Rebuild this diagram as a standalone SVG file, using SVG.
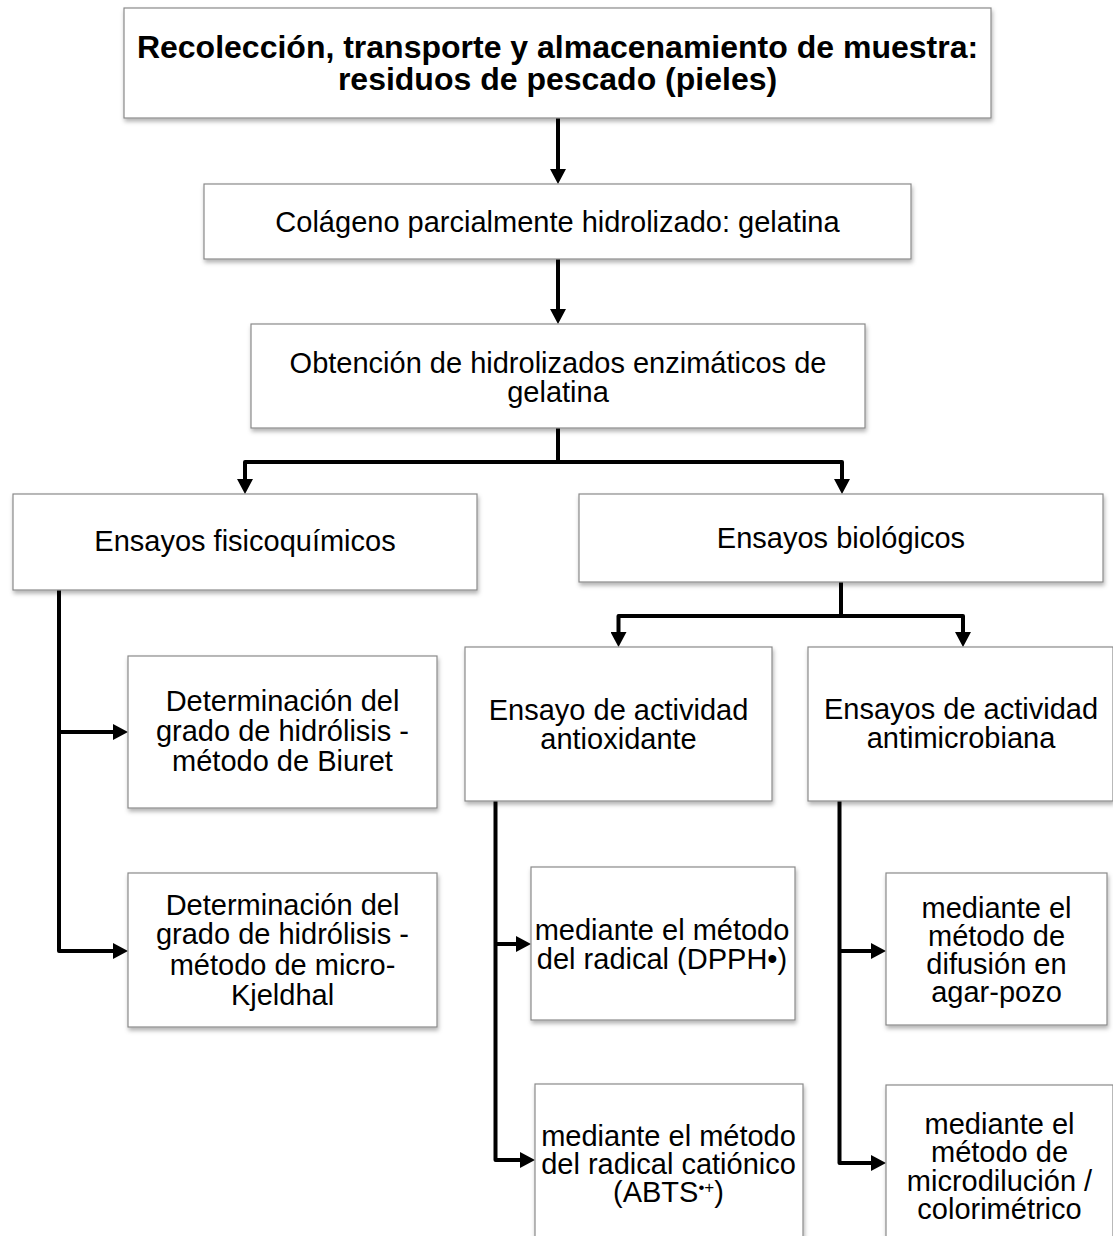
<svg xmlns="http://www.w3.org/2000/svg" width="1113" height="1236" viewBox="0 0 1113 1236">
  <style>
    .box { fill: #ffffff; stroke: #8a8a8a; stroke-width: 1.2; filter: url(#shadow); }
    .t { font-family: "Liberation Sans", Arial, Helvetica, sans-serif; font-size: 29px; fill: #000; text-anchor: middle; }
    .b { font-family: "Liberation Sans", Arial, Helvetica, sans-serif; font-size: 32px; font-weight: bold; fill: #000; text-anchor: middle; }
    .sup { font-size: 17px; }
    .wire { fill: none; stroke: #000; stroke-width: 4; stroke-linejoin: round; marker-end: url(#head); }
    .wire-plain { fill: none; stroke: #000; stroke-width: 4; stroke-linejoin: round; }
  </style>
  <defs>
    <filter id="shadow" x="-5%" y="-5%" width="112%" height="120%">
      <feDropShadow dx="1" dy="3" stdDeviation="2" flood-color="#000" flood-opacity="0.3"/>
    </filter>
    <marker id="head" markerUnits="userSpaceOnUse" markerWidth="16" markerHeight="16" refX="1" refY="8" orient="auto">
      <path d="M0,0 L15,8 L0,16 Z" fill="#000"/>
    </marker>
  </defs>

  <rect width="1113" height="1236" fill="#ffffff"/>

  <!-- connectors -->
  <g id="connectors">
    <path class="wire" d="M558,118 V170"/>
    <path class="wire" d="M558,259 V310"/>
    <path class="wire" d="M558,428 V462 H245 V480"/>
    <path class="wire" d="M558,462 H842 V480"/>
    <path class="wire" d="M841,582 V616 H618.5 V633"/>
    <path class="wire" d="M841,616 H963 V633"/>
    <path class="wire" d="M59,590 V951 H114"/>
    <path class="wire" d="M59,732 H114"/>
    <path class="wire" d="M495.5,801 V1160 H521"/>
    <path class="wire" d="M495.5,944 H517"/>
    <path class="wire" d="M839.5,801 V1163 H872"/>
    <path class="wire" d="M839.5,951 H872"/>
  </g>

  <g id="muestra">
    <rect class="box" x="124" y="8" width="867" height="110"/>
    <text class="b" x="557.5" y="58">Recolección, transporte y almacenamiento de muestra:</text>
    <text class="b" x="557.5" y="90">residuos de pescado (pieles)</text>
  </g>

  <g id="gelatina">
    <rect class="box" x="204" y="184" width="707" height="75"/>
    <text class="t" x="557.5" y="232">Colágeno parcialmente hidrolizado: gelatina</text>
  </g>

  <g id="hidrolizados">
    <rect class="box" x="251" y="324" width="614" height="104"/>
    <text class="t" x="558" y="373">Obtención de hidrolizados enzimáticos de</text>
    <text class="t" x="558" y="402">gelatina</text>
  </g>

  <g id="fisicoquimicos">
    <rect class="box" x="13" y="494" width="464" height="96"/>
    <text class="t" x="245" y="551">Ensayos fisicoquímicos</text>
  </g>

  <g id="biologicos">
    <rect class="box" x="579" y="494" width="524" height="88"/>
    <text class="t" x="841" y="548">Ensayos biológicos</text>
  </g>

  <g id="biuret">
    <rect class="box" x="128" y="656" width="309" height="152"/>
    <text class="t" x="282.5" y="711">Determinación del</text>
    <text class="t" x="282.5" y="740.5">grado de hidrólisis -</text>
    <text class="t" x="282.5" y="770.5">método de Biuret</text>
  </g>

  <g id="kjeldhal">
    <rect class="box" x="128" y="873" width="309" height="154"/>
    <text class="t" x="282.5" y="914.5">Determinación del</text>
    <text class="t" x="282.5" y="944">grado de hidrólisis -</text>
    <text class="t" x="282.5" y="974.5">método de micro-</text>
    <text class="t" x="282.5" y="1005">Kjeldhal</text>
  </g>

  <g id="antioxidante">
    <rect class="box" x="465" y="647" width="307" height="154"/>
    <text class="t" x="618.5" y="719.5">Ensayo de actividad</text>
    <text class="t" x="618.5" y="748.5">antioxidante</text>
  </g>

  <g id="antimicrobiana">
    <rect class="box" x="808" y="647" width="305" height="154"/>
    <text class="t" x="961" y="719">Ensayos de actividad</text>
    <text class="t" x="961" y="748">antimicrobiana</text>
  </g>

  <g id="dpph">
    <rect class="box" x="531" y="867" width="264" height="153"/>
    <text class="t" x="662" y="939.5">mediante el método</text>
    <text class="t" x="662" y="968.5">del radical (DPPH•)</text>
  </g>

  <g id="abts">
    <rect class="box" x="535" y="1084" width="268" height="160"/>
    <text class="t" x="668.5" y="1146">mediante el método</text>
    <text class="t" x="668.5" y="1174">del radical catiónico</text>
    <text class="t" x="668.5" y="1202">(ABTS<tspan class="sup" dy="-9">•+</tspan><tspan dy="9">)</tspan></text>
  </g>

  <g id="agar-pozo">
    <rect class="box" x="886" y="873" width="221" height="152"/>
    <text class="t" x="996.5" y="918">mediante el</text>
    <text class="t" x="996.5" y="946">método de</text>
    <text class="t" x="996.5" y="974">difusión en</text>
    <text class="t" x="996.5" y="1002">agar-pozo</text>
  </g>

  <g id="microdilucion">
    <rect class="box" x="886" y="1085" width="227" height="160"/>
    <text class="t" x="999.5" y="1133.5">mediante el</text>
    <text class="t" x="999.5" y="1162">método de</text>
    <text class="t" x="999.5" y="1190.5">microdilución /</text>
    <text class="t" x="999.5" y="1218.5">colorimétrico</text>
  </g>
</svg>
